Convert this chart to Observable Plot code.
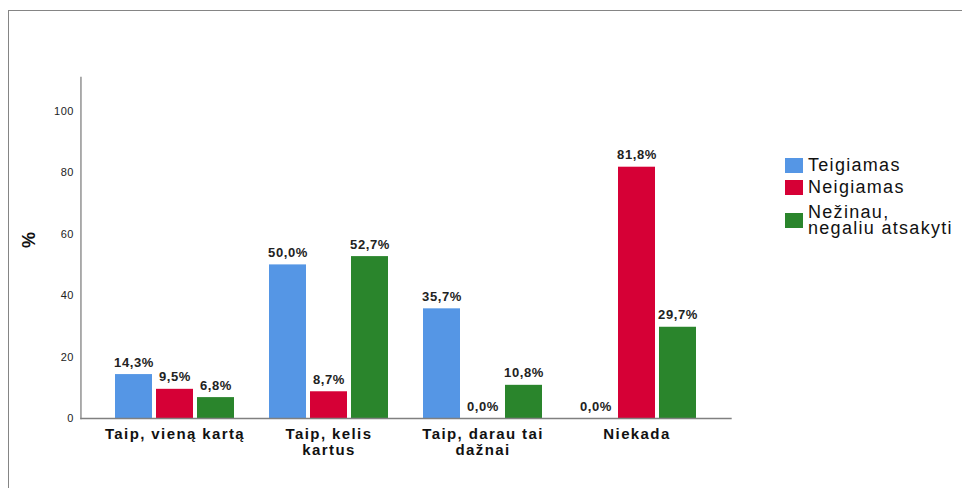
<!DOCTYPE html>
<html><head><meta charset="utf-8">
<script src="https://cdn.jsdelivr.net/npm/d3@7"></script>
<script src="https://cdn.jsdelivr.net/npm/@observablehq/plot@0.6"></script>
<style>
body{margin:0;background:#fff;font-family:"Liberation Sans",Arial,sans-serif;}
#wrap{position:relative;width:962px;height:488px;overflow:hidden;}
#border{position:absolute;left:8px;top:10px;width:980px;height:500px;border-top:1px solid #858585;border-left:1px solid #858585;}
#chart{position:absolute;left:0;top:0;}
#chart g[font-size="15"]{letter-spacing:1.4px;}
#chart g[font-size="13"]{letter-spacing:0.6px;}
#chart g[font-size="11"]{letter-spacing:0.5px;}
.lg{position:absolute;left:785px;display:flex;align-items:center;font-size:18px;line-height:16px;letter-spacing:1.3px;color:#111;white-space:pre;}
.lg .sw{width:18px;height:15px;margin-right:5px;flex:none;}
</style></head><body>
<div id="wrap"><div id="border"></div><div id="chart"></div><div id="legend"></div></div>
<script>
const categories = ["Taip, vieną kartą", "Taip, kelis kartus", "Taip, darau tai dažnai", "Niekada"];
const categoryLabels = ["Taip, vieną kartą", "Taip, kelis\nkartus", "Taip, darau tai\ndažnai", "Niekada"];
const series = ["Teigiamas", "Neigiamas", "Nežinau, negaliu atsakyti"];
const seriesLabels = ["Teigiamas", "Neigiamas", "Nežinau,\nnegaliu atsakyti"];
const colors = ["#5596e5", "#d60036", "#2a852c"];
const teigiamas = [14.3, 50.0, 35.7, 0.0];
const neigiamas = [9.5, 8.7, 0.0, 81.8];
const nezinau = [6.8, 52.7, 10.8, 29.7];
const yTicks = [0, 20, 40, 60, 80, 100];
const yMax = 111;

const valuesBySeries = [teigiamas, neigiamas, nezinau];
const data = [];
categories.forEach((c, i) => series.forEach((s, j) => data.push({category: c, series: s, value: valuesBySeries[j][i]})));
const fmt = v => v.toFixed(1).replace(".", ",") + "%";
const font = "'Liberation Sans', Arial, sans-serif";

const W = 962, mL = 79, mR = 229;
const fxPadIn = 0.2, fxPadOut = 0.21;
const fxStep = (W - mL - mR) / (categories.length - fxPadIn + 2 * fxPadOut);
const facetOffset = fxPadOut * fxStep;

const chart = Plot.plot({
  width: W, height: 488,
  marginLeft: mL, marginRight: mR, marginTop: 77, marginBottom: 70,
  style: {fontFamily: font, background: "transparent", color: "#222"},
  fx: {domain: categories, paddingInner: fxPadIn, paddingOuter: fxPadOut, axis: null, label: null},
  x: {domain: series, paddingInner: 0.096, paddingOuter: 0.042, axis: null},
  y: {domain: [0, yMax], axis: null},
  color: {domain: series, range: colors},
  marks: [
    Plot.barY(data, {fx: "category", x: "series", y: "value", fill: "series"}),
    Plot.text(data, {fx: "category", x: "series", y: "value", text: d => fmt(d.value), dy: -12,
      fontWeight: "bold", fontSize: 13, fill: "#222"}),
    Plot.text(categories, {fx: d => d, text: (d, i) => categoryLabels[i], frameAnchor: "bottom",
      lineAnchor: "top", dy: 9, fontSize: 15, fontWeight: "bold", lineHeight: 1.07, fill: "#111"}),
    Plot.frame({anchor: "bottom", stroke: "#808080", strokeWidth: 1.3, facet: "super",
      insetLeft: -facetOffset, insetRight: -facetOffset}),
    Plot.frame({anchor: "left", stroke: "#808080", strokeWidth: 1.3, facet: "super",
      insetLeft: -facetOffset, insetRight: -facetOffset}),
    Plot.axisY({ticks: yTicks, tickSize: 0, tickPadding: 7, fontSize: 11, label: null,
      dx: -facetOffset, color: "#222"}),
    Plot.text(["%"], {frameAnchor: "left", rotate: -90, dx: -52 - facetOffset, fontSize: 18, fontWeight: "bold",
      fill: "#111", facet: "super"})
  ]
});
document.getElementById("chart").appendChild(chart);

const legendTops = [157, 179, 204];
const lg = document.getElementById("legend");
series.forEach((s, i) => {
  const row = document.createElement("div");
  row.className = "lg";
  row.style.top = legendTops[i] + "px";
  const sw = document.createElement("div");
  sw.className = "sw";
  sw.style.background = colors[i];
  const t = document.createElement("div");
  t.textContent = seriesLabels[i];
  row.appendChild(sw); row.appendChild(t);
  lg.appendChild(row);
});
</script>
</body></html>
